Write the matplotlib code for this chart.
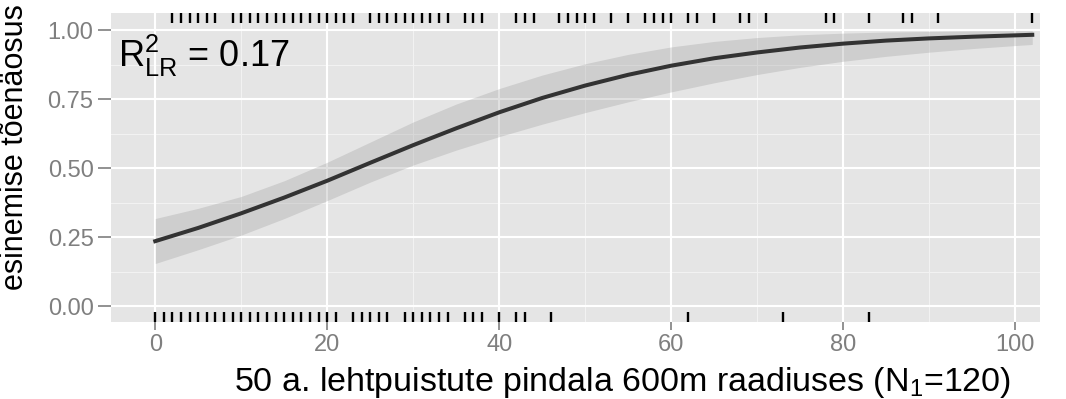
import numpy as np
import matplotlib
matplotlib.use("Agg")
import matplotlib.pyplot as plt
import matplotlib.transforms as mtransforms

plt.rcParams['font.family'] = ['Liberation Sans', 'DejaVu Sans']
plt.rcParams['mathtext.fontset'] = 'custom'
plt.rcParams['mathtext.rm'] = 'Liberation Sans'
plt.rcParams['mathtext.it'] = 'Liberation Sans'

# ---- data ----
x_fit = [0, 5, 10, 15, 20, 25, 30, 35, 40, 45, 50, 55, 60, 65, 70, 75, 80, 85, 90, 95, 100, 102]
p_fit = [0.236, 0.284, 0.337, 0.394, 0.455, 0.520, 0.584, 0.645, 0.703, 0.755, 0.800,
         0.839, 0.872, 0.899, 0.920, 0.938, 0.952, 0.963, 0.971, 0.977, 0.982, 0.984]
p_lo = [0.155, 0.205, 0.258, 0.318, 0.383, 0.450, 0.512, 0.566, 0.615, 0.660, 0.702,
        0.741, 0.777, 0.810, 0.840, 0.866, 0.888, 0.906, 0.921, 0.934, 0.945, 0.949]
p_hi = [0.318, 0.355, 0.398, 0.455, 0.522, 0.595, 0.668, 0.733, 0.789, 0.838, 0.879,
        0.913, 0.940, 0.960, 0.974, 0.984, 0.990, 0.994, 0.996, 0.998, 0.999, 0.999]

# observations: absent (bottom rug) and present (top rug)
x_absent = list(range(0, 22)) + list(range(23, 28)) + list(range(29, 35)) + \
    [36, 37, 38, 40, 42, 43, 46, 62, 73, 83]
x_present = list(range(2, 8)) + list(range(9, 24)) + list(range(25, 35)) + \
    [36, 37, 38, 42, 43, 44, 47, 48, 49, 50, 51, 53, 55, 57, 58, 59, 60, 62, 63,
     65, 68, 69, 71, 78, 79, 83, 87, 88, 91, 102]

x_ticks = [0, 20, 40, 60, 80, 100]
y_ticks = [0.0, 0.25, 0.5, 0.75, 1.0]
y_ticklabels = ["0.00", "0.25", "0.50", "0.75", "1.00"]

fig = plt.figure(figsize=(10.66, 3.99), dpi=100)
ax = fig.add_axes([0.1041, 0.1937, 0.8715, 0.773])
ax.set_facecolor('#E5E5E5')
for s in ax.spines.values():
    s.set_visible(False)

ax.set_xlim(-5.15, 102.9)
ax.set_ylim(-0.056, 1.062)

# grid
for v in [10, 30, 50, 70, 90]:
    ax.axvline(v, color='#F2F2F2', lw=0.8, zorder=0)
for v in [0.125, 0.375, 0.625, 0.875]:
    ax.axhline(v, color='#F2F2F2', lw=0.8, zorder=0)
for v in x_ticks:
    ax.axvline(v, color='white', lw=1.5, zorder=0)
for v in y_ticks:
    ax.axhline(v, color='white', lw=1.5, zorder=0)

ax.fill_between(x_fit, p_lo, p_hi, color='#999999', alpha=0.3, lw=0, zorder=1)
ax.plot(x_fit, p_fit, color='#333333', lw=2.9, zorder=2)

trans = mtransforms.blended_transform_factory(ax.transData, ax.transAxes)
ax.vlines(x_absent, 0, 0.03, transform=trans, color='black', lw=1.7, zorder=3)
ax.vlines(x_present, 0.97, 1.0, transform=trans, color='black', lw=1.7, zorder=3)

ax.set_xticks(x_ticks)
ax.set_yticks(y_ticks)
ax.set_yticklabels(y_ticklabels)
ax.tick_params(colors='#7F7F7F', labelcolor='#7F7F7F', labelsize=17, width=1.2)
ax.tick_params(axis='x', length=6, pad=3)
ax.tick_params(axis='y', length=9.5, pad=3)

ax.set_xlabel(r'50 a. lehtpuistute pindala 600m raadiuses (N$_1$=120)', fontsize=24.5)
ax.xaxis.set_label_coords(0.551, -0.14)
ax.xaxis.label.set_va('top')
ax.set_ylabel('esinemise tõenäosus', fontsize=22)
ax.yaxis.set_label_coords(-0.087, 0.566)

ax.text(0.008, 0.826, r'$\mathregular{R^2_{LR}}$ = 0.17', transform=ax.transAxes,
        fontsize=26, ha='left', va='baseline')

fig.savefig('out.png', dpi=100)
